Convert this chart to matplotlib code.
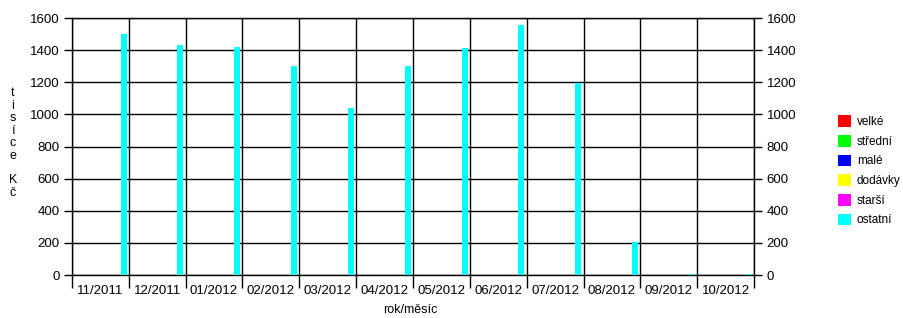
import numpy as np
import matplotlib.pyplot as plt
from matplotlib.patches import Patch

plt.rcParams['font.family'] = ['Liberation Sans', 'DejaVu Sans']

months = ["11/2011", "12/2011", "01/2012", "02/2012", "03/2012", "04/2012",
          "05/2012", "06/2012", "07/2012", "08/2012", "09/2012", "10/2012"]
series = ["velké", "střední", "malé", "dodávky", "starší", "ostatní"]
colors = ["#ff0000", "#00ff00", "#0000ff", "#ffff00", "#ff00ff", "#00ffff"]

velke = [0] * 12
stredni = [0] * 12
male = [0] * 12
dodavky = [0] * 12
starsi = [0] * 12
ostatni = [1500, 1432, 1420, 1305, 1040, 1305, 1415, 1555, 1195, 205, 8, 8]
values = [velke, stredni, male, dodavky, starsi, ostatni]

fig = plt.figure(figsize=(9.04, 3.18), dpi=100)
ax = fig.add_axes([0.0796, 0.135, 0.7545, 0.808])

w = 0.105
x = np.arange(len(months))
for i, (name, col, vals) in enumerate(zip(series, colors, values)):
    ax.bar(x + 0.96 - (6 - i) * w, vals, width=w, align="edge", color=col, linewidth=0, zorder=3)

ax.set_xlim(0, 12)
ax.set_ylim(0, 1600)
ax.set_yticks(range(0, 1601, 200))
ax.set_xticks(np.arange(0, 13))
ax.set_xticklabels([])
ax.set_xticks(x + 0.5, minor=True)
ax.set_xticklabels(months, minor=True)
ax.tick_params(axis="x", which="major", length=9, width=1, color="black", direction="out")
ax.tick_params(axis="x", which="minor", length=0, labelsize=9.5, pad=7)
ax.tick_params(axis="y", length=6, width=1, labelsize=9.5, right=True, labelright=True, pad=3)
ax.grid(True, which="major", color="black", linewidth=1, zorder=1)
for s in ax.spines.values():
    s.set_color("black")
    s.set_linewidth(1)

fig.text(410 / 904, 0.025, "rok/měsíc", fontsize=9, ha="center", va="center")
fig.text(0.014, 0.55, "t\ni\ns\ní\nc\ne\n\nK\nč", fontsize=9, ha="center", va="center",
         linespacing=1.05)

handles = [Patch(facecolor=c, edgecolor="none") for c in colors]
fig.legend(handles, series, loc="upper left", bbox_to_anchor=(0.927, 0.638), frameon=False,
           fontsize=8.5, handlelength=1.1, handleheight=1.15, handletextpad=0.5,
           labelspacing=0.58, borderpad=0, borderaxespad=0)

fig.savefig("out.png", dpi=100)
